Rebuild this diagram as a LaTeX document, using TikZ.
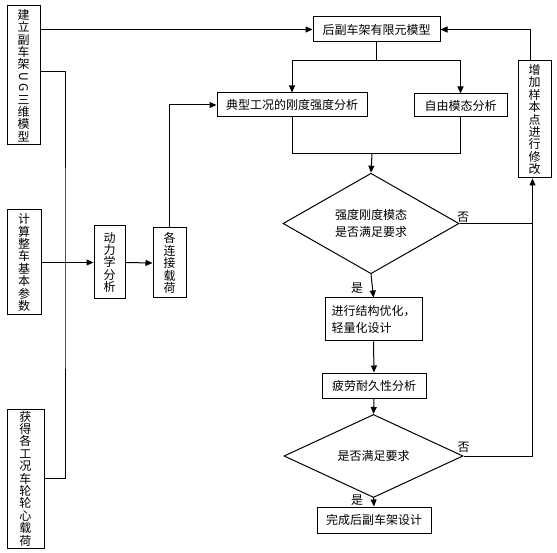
\documentclass[tikz,border=0pt]{standalone}
\usepackage{fontspec}
\usepackage{graphicx}
\newfontfamily\cjk{Noto Sans CJK SC}
\usetikzlibrary{arrows.meta,shapes.geometric,calc}
\newcommand\rotch[1]{\rotatebox[origin=c]{-90}{#1}}
\begin{document}
\begin{tikzpicture}[x=1pt,y=-1pt,
  every node/.style={font=\cjk\fontsize{12}{12.4}\selectfont},
  box/.style={draw,line width=1pt,inner sep=0pt,align=center},
  dia/.style={draw,line width=1pt,diamond,inner sep=0pt,align=center},
  lbl/.style={inner sep=0pt},
  ln/.style={line width=1pt},
  arr/.style={line width=1pt,-{Triangle[length=7pt,width=6pt]}}]
\useasboundingbox (0,0) rectangle (557,553);
% left column
\node[box,minimum width=33,minimum height=139] (b1) at (23.5,75.5)
  {建\\立\\副\\车\\架\\\rotch{U}\\[-2pt]\rotch{G}\\三\\维\\模\\型};
\node[box,minimum width=34,minimum height=105] (b2) at (24,262.5)
  {计\\算\\整\\车\\基\\本\\参\\数};
\node[box,minimum width=37,minimum height=139] (b3) at (25.5,478.5)
  {获\\得\\各\\工\\况\\车\\轮\\轮\\心\\载\\荷};
\node[box,minimum width=31,minimum height=73] (dyn) at (109.5,262.5)
  {动\\力\\学\\分\\析};
\node[box,minimum width=33,minimum height=70] (load) at (169.5,263)
  {各\\连\\接\\载\\荷};
% main flow
\node[box,minimum width=127,minimum height=25] (fem) at (376.5,29.5) {后副车架有限元模型};
\node[box,minimum width=150,minimum height=24] (typ) at (292,105) {典型工况的刚度强度分析};
\node[box,minimum width=93,minimum height=23] (free) at (460.5,105.5) {自由模态分析};
\node[box,minimum width=33,minimum height=117] (add) at (534.5,119.5)
  {增\\加\\样\\本\\点\\进\\行\\修\\改};
\node[dia,minimum width=176,minimum height=83] (d1) at (371,223.5)
  {强度刚度模态\\[5pt]是否满足要求};
\node[box,minimum width=97,minimum height=43,align=left] (opt) at (373.5,319.5)
  {进行结构优化，\\[5pt]轻量化设计};
\node[box,minimum width=104,minimum height=25] (fat) at (374,385.5) {疲劳耐久性分析};
\node[dia,minimum width=179,minimum height=49] (d2) at (373.5,456) {是否满足要求};
\node[box,minimum width=114,minimum height=26] (fin) at (374,520) {完成后副车架设计};
% labels
\node[lbl] (no1) at (463,217) {否};
\node[lbl] (no2) at (463.5,447) {否};
\node[lbl] (yes1) at (357,288) {是};
\node[lbl] (yes2) at (357,500) {是};
% helper coordinates
\coordinate (bus) at (65,262);
\coordinate (split) at (376.5,61);
\coordinate (merge) at (372,154);
% connectors
\draw[arr] (b1.east |- fem.west) -- (fem.west);
\draw[ln] ($(b1.east)+(0,-4)$) -| (bus) |- (b3.east);
\draw[arr] (b2.east) -- (dyn.west);
\draw[arr] (dyn.east) -- (load.west);
\draw[arr] (load.north) |- (typ.west);
\draw[ln] (fem.south) -- (split);
\draw[arr] (split) -| (typ.north);
\draw[arr] (split) -| (free.north);
\draw[ln] (typ.south) |- (merge);
\draw[ln] (free.south) |- (merge);
\draw[arr] (merge) -- (d1.north);
\draw[arr] (d1.south) -- (opt.north);
\draw[arr] (opt.south) -- (fat.north);
\draw[arr] (fat.south) -- (d2.north);
\draw[arr] (d2.south) -- (fin.north);
\draw[ln] (d1.east) -- ($(d1.east -| add.south)+(-2,0)$);
\draw[arr] (d2.east) -| ($(add.south)+(-2,0)$);
\draw[arr] ($(add.north)+(-4,0)$) |- (fem.east);
\end{tikzpicture}
\end{document}
